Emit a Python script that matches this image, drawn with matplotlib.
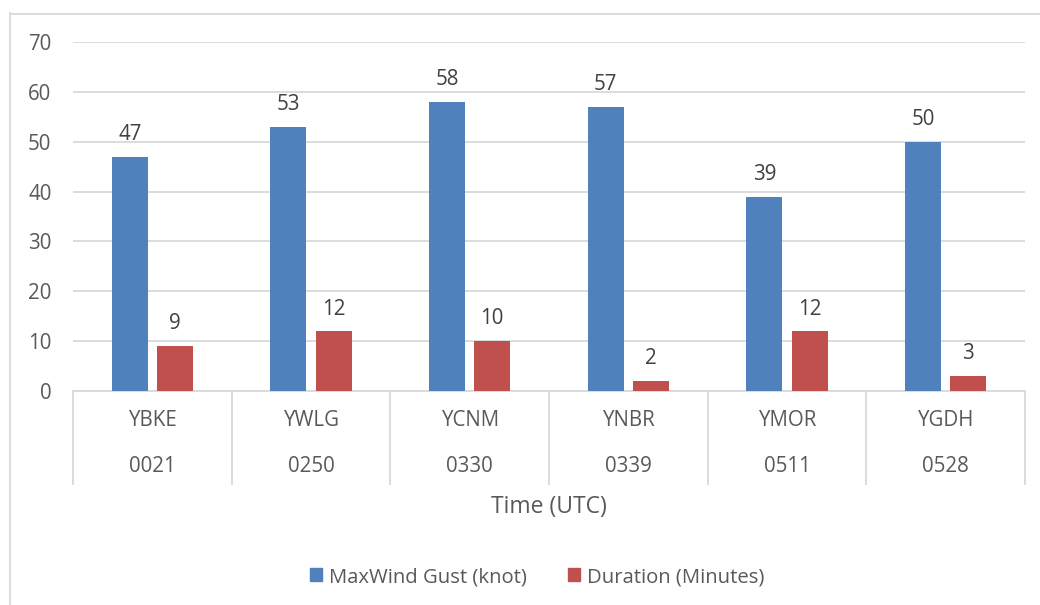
import matplotlib
matplotlib.use("Agg")
import matplotlib.pyplot as plt
from matplotlib.patches import Patch
from matplotlib.lines import Line2D
import numpy as np

stations = ["YBKE", "YWLG", "YCNM", "YNBR", "YMOR", "YGDH"]
times = ["0021", "0250", "0330", "0339", "0511", "0528"]
gust = [47, 53, 58, 57, 39, 50]
duration = [9, 12, 10, 2, 12, 3]
series_names = ["MaxWind Gust (knot)", "Duration (Minutes)"]
yticks = [0, 10, 20, 30, 40, 50, 60, 70]
xlabel = "Time (UTC)"

plt.rcParams['font.family'] = ['Open Sans', 'DejaVu Sans']

W, H = 1040, 605
fig = plt.figure(figsize=(W / 100, H / 100), dpi=100)
left, right, top, bottom = 73, 1025, 42, 391
ax = fig.add_axes([left / W, 1 - bottom / H, (right - left) / W, (bottom - top) / H])

blue = "#4f81bd"
red = "#c0504d"
grid_c = "#d9d9d9"
txt_c = "#595959"
lab_c = "#404040"
fs = 14.8

x = np.arange(len(stations))
bw = 0.227
off = 0.142
b1 = ax.bar(x - off, gust, bw, color=blue, zorder=3)
b2 = ax.bar(x + off, duration, bw, color=red, zorder=3)

for bars, vals in ((b1, gust), (b2, duration)):
    for r, v in zip(bars, vals):
        ax.annotate(str(v), (r.get_x() + r.get_width() / 2, v), xytext=(0, 12),
                    textcoords="offset points", ha="center", va="baseline",
                    fontsize=fs, color=lab_c)

ax.set_xlim(-0.5, len(stations) - 0.5)
ax.set_ylim(0, 70)
ax.set_yticks(yticks)
ax.tick_params(axis='y', length=0, pad=15.5, labelsize=fs, labelcolor=txt_c)
ax.set_xticks([])
for s in ("top", "right", "left"):
    ax.spines[s].set_visible(False)
ax.spines["bottom"].set_color(grid_c)
ax.spines["bottom"].set_linewidth(1.3)
ax.yaxis.grid(True, color=grid_c, linewidth=1.3)
ax.set_axisbelow(True)

ph = bottom - top
trans = ax.get_xaxis_transform()
ybot = -(484 - bottom) / ph
for xb in np.arange(-0.5, len(stations), 1.0):
    ax.plot([xb, xb], [0, ybot], transform=trans, color=grid_c, lw=1.3, clip_on=False)
for i, (s, t) in enumerate(zip(stations, times)):
    ax.text(i, -(421 - bottom) / ph, s, transform=trans, ha="center", va="center",
            fontsize=fs, color=txt_c)
    ax.text(i, -(467 - bottom) / ph, t, transform=trans, ha="center", va="center",
            fontsize=fs, color=txt_c)
ax.text(0.5, -(507 - bottom) / ph, xlabel, transform=ax.transAxes, ha="center",
        va="center", fontsize=16.5, color=txt_c)

handles = [Patch(color=blue), Patch(color=red)]
fig.legend(handles, series_names, loc="center", bbox_to_anchor=(537 / W, 1 - 577 / H),
           ncol=2, frameon=False, fontsize=14.6, handlelength=0.6, handleheight=0.6,
           handletextpad=0.35, columnspacing=2.0, labelcolor=txt_c)

# outer chart border
fig.add_artist(Line2D([9.5 / W, 9.5 / W], [1 - 13 / H, 0], transform=fig.transFigure,
                      color=grid_c, lw=1.3))
fig.add_artist(Line2D([9.5 / W, 1], [1 - 13.5 / H, 1 - 13.5 / H], transform=fig.transFigure,
                      color=grid_c, lw=1.3))

fig.savefig("out.png", dpi=100)
